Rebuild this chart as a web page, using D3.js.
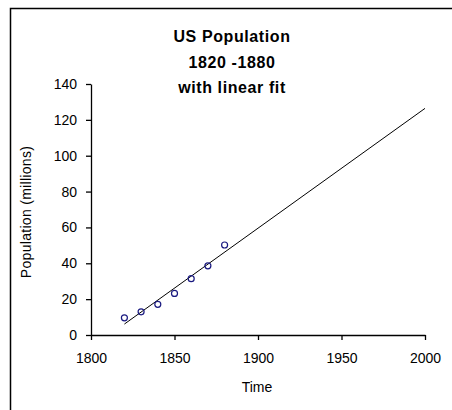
<!DOCTYPE html>
<html>
<head>
<meta charset="utf-8">
<script src="https://cdn.jsdelivr.net/npm/d3@7"></script>
<style>
  body { margin: 0; background: #fff; }
  svg { display: block; }
</style>
</head>
<body>
<div id="chart"></div>
<script>
// census points (millions)
const years = [1820, 1830, 1840, 1850, 1860, 1870, 1880];
const population = [9.6, 12.9, 17.1, 23.2, 31.4, 38.6, 50.2];

// linear fit end points
const fitYears = [1820, 2000];
const fitValues = [6.1, 126.4];

const xTicks = [1800, 1850, 1900, 1950, 2000];
const yTicks = [0, 20, 40, 60, 80, 100, 120, 140];
const titleLines = ["US Population", "1820 -1880", "with linear fit"];

const width = 452, height = 410;
const margin = {left: 91, right: 27, top: 84, bottom: 75};

const svg = d3.select("#chart").append("svg")
    .attr("width", width)
    .attr("height", height);

// outer chart frame, running off the right and bottom edge
svg.append("rect")
    .attr("x", 10.5)
    .attr("y", 8.5)
    .attr("width", 460)
    .attr("height", 420)
    .style("fill", "none")
    .style("stroke", "#000")
    .style("stroke-width", 1.5);

const x = d3.scaleLinear().domain([1800, 2000])
    .range([margin.left, width - margin.right]);
const y = d3.scaleLinear().domain([0, 140])
    .range([height - margin.bottom, margin.top]);

const font = "Arial, 'Liberation Sans', sans-serif";

// axes
const xAxis = svg.append("g")
    .attr("transform", "translate(0," + y(0) + ")")
    .call(d3.axisBottom(x).tickValues(xTicks).tickSize(5).tickSizeOuter(0).tickFormat(d3.format("d")));

const yAxis = svg.append("g")
    .attr("transform", "translate(" + x(1800) + ",0)")
    .call(d3.axisLeft(y).tickValues(yTicks).tickSize(5).tickSizeOuter(0));

[xAxis, yAxis].forEach(a => {
    a.select(".domain").style("stroke", "#000").style("stroke-width", 1.3);
    a.selectAll(".tick line").style("stroke", "#000").style("stroke-width", 1.3);
    a.selectAll(".tick text")
        .style("font-family", font)
        .style("font-size", "14px")
        .style("fill", "#000");
});
xAxis.selectAll(".tick text").attr("dy", "0.71em").attr("y", 18);
yAxis.selectAll(".tick text").attr("x", -14);

// fit line
svg.append("line")
    .attr("x1", x(fitYears[0]))
    .attr("y1", y(fitValues[0]))
    .attr("x2", x(fitYears[1]))
    .attr("y2", y(fitValues[1]))
    .style("stroke", "#000")
    .style("stroke-width", 1);

// data points
svg.append("g").selectAll("circle")
    .data(years)
    .enter().append("circle")
    .attr("cx", (d, i) => x(d))
    .attr("cy", (d, i) => y(population[i]))
    .attr("r", 3)
    .style("fill", "none")
    .style("stroke", "#1a1a80")
    .style("stroke-width", 1.2);

// title
svg.append("g").selectAll("text")
    .data(titleLines)
    .enter().append("text")
    .attr("x", 232)
    .attr("y", (d, i) => 42 + i * 25.5)
    .attr("text-anchor", "middle")
    .style("font-family", font)
    .style("font-weight", "bold")
    .style("font-size", "16px")
    .style("letter-spacing", "0.6px")
    .style("fill", "#000")
    .text(d => d);

// axis titles
svg.append("text")
    .attr("x", 257)
    .attr("y", 392)
    .attr("text-anchor", "middle")
    .style("font-family", font)
    .style("font-size", "14px")
    .text("Time");

svg.append("text")
    .attr("transform", "translate(31,212) rotate(-90)")
    .attr("text-anchor", "middle")
    .style("font-family", font)
    .style("font-size", "14px")
    .style("letter-spacing", "0.3px")
    .text("Population (millions)");
</script>
</body>
</html>
